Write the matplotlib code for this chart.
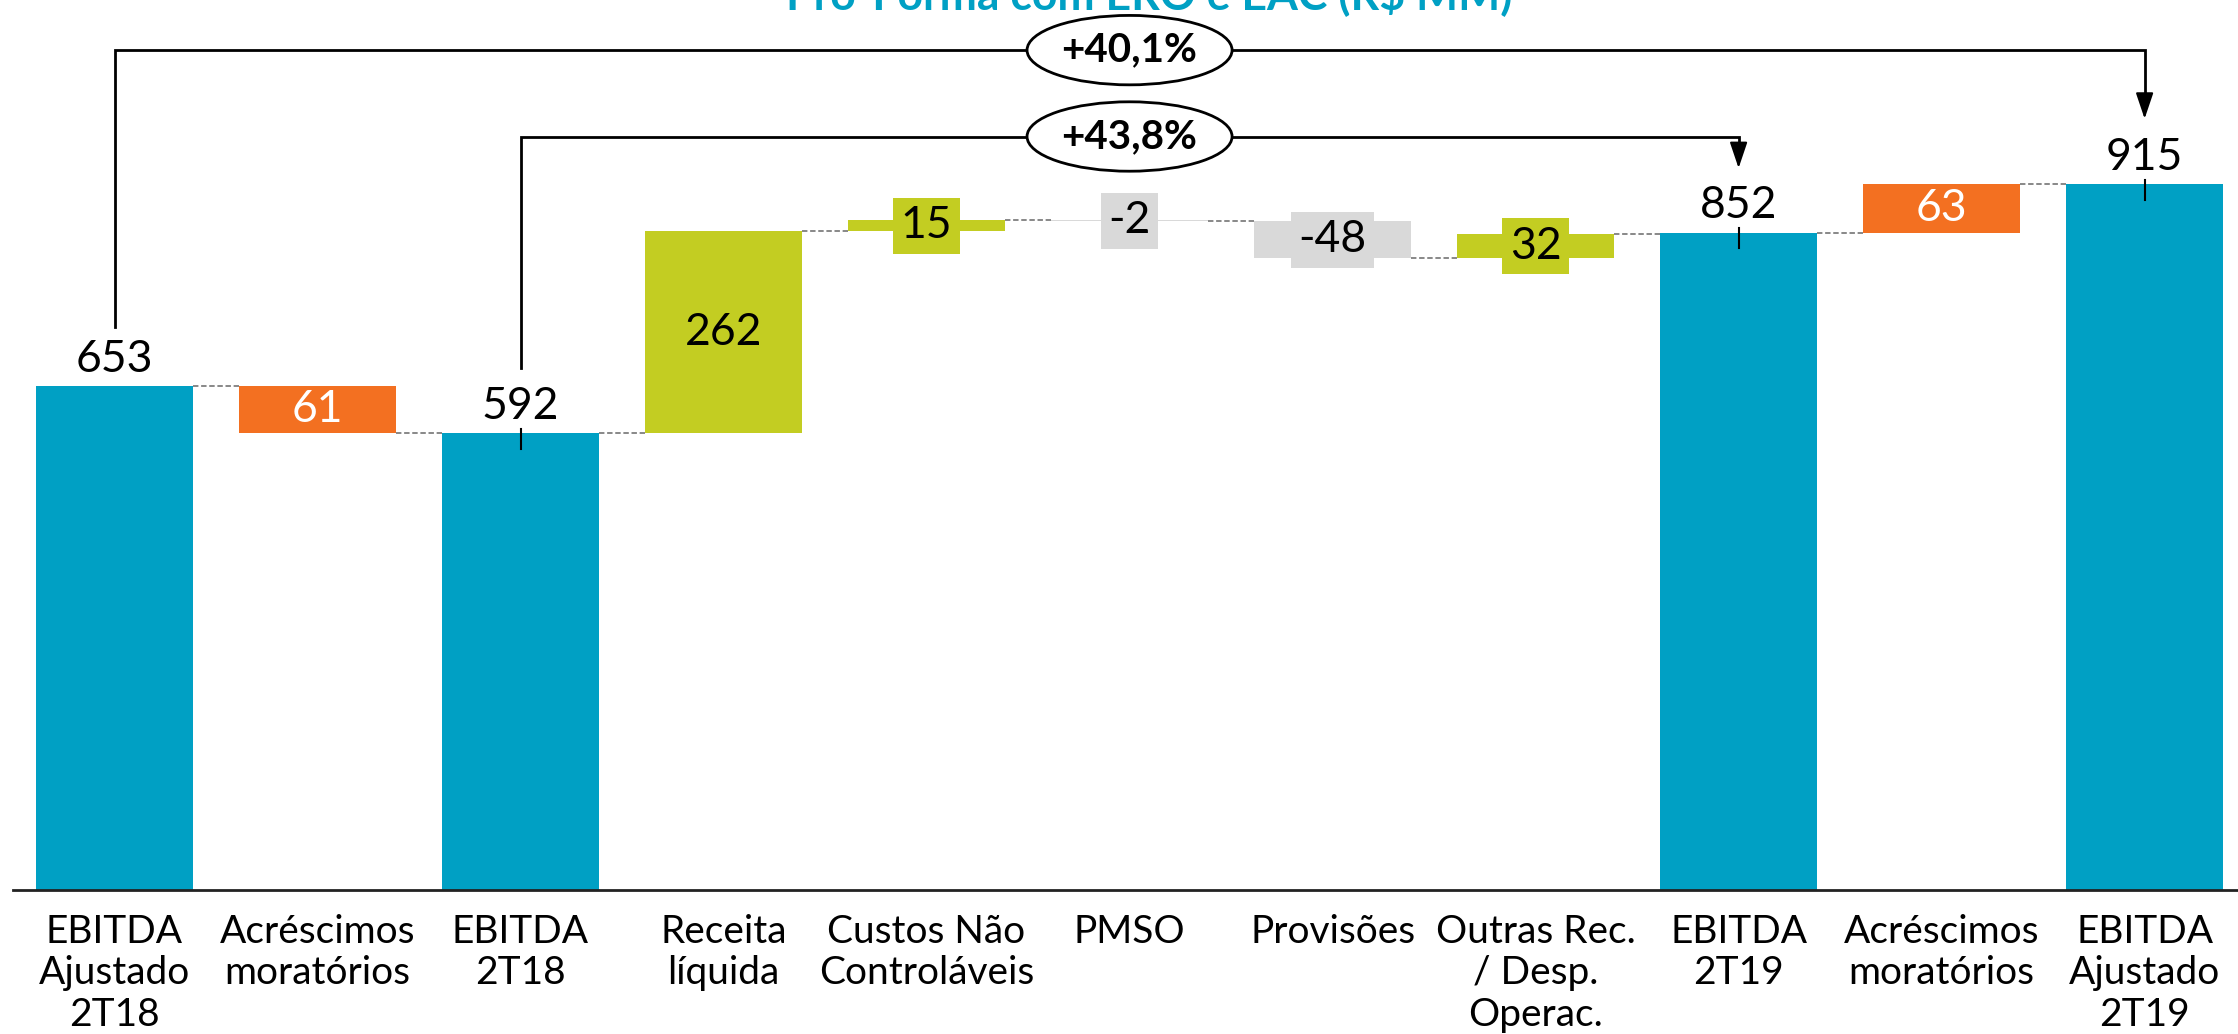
import matplotlib.pyplot as plt
from matplotlib.patches import Ellipse

plt.rcParams['font.family'] = ['Lato', 'DejaVu Sans']

# EBITDA bridge, 2T18 -> 2T19 (R$ MM)
categories = ['EBITDA\nAjustado\n2T18', 'Acréscimos\nmoratórios', 'EBITDA\n2T18',
              'Receita\nlíquida', 'Custos Não\nControláveis', 'PMSO', 'Provisões',
              'Outras Rec.\n/ Desp.\nOperac.', 'EBITDA\n2T19', 'Acréscimos\nmoratórios',
              'EBITDA\nAjustado\n2T19']
values = [653, -61, 592, 262, 15, -2, -48, 32, 852, 63, 915]
kinds = ['total', 'adj', 'total', 'delta', 'delta', 'delta', 'delta', 'delta',
         'total', 'adj', 'total']
growth = [('+40,1%', 0, 10), ('+43,8%', 2, 8)]
title = 'Pró-Forma com ERO e EAC (R$ MM)'

TEAL = '#00A0C4'
ORANGE = '#F37021'
GREEN = '#C3CD22'
GREY = '#D9D9D9'

fig = plt.figure(figsize=(22.38, 10.34), dpi=100)
ax = fig.add_axes([13 / 2238, 144 / 1034, 1 - 13 / 2238, 890 / 1034])
ax.set_xlim(-0.5, 10.46)
ax.set_ylim(0, 1154)

w = 0.775
level = 0
ends = []
for i, (v, k) in enumerate(zip(values, kinds)):
    if k == 'total':
        bottom, top = 0, v
        color = TEAL
    else:
        bottom, top = level, level + v
        if k == 'adj':
            color = ORANGE
        else:
            color = GREEN if v > 0 else GREY
    ax.bar(i, top - bottom, bottom=bottom, width=w, color=color, zorder=2)
    level = top
    ends.append(top)

    mid = (bottom + top) / 2
    if k == 'total':
        ax.text(i, v + 19, str(v), ha='center', va='baseline', fontsize=32, zorder=4)
    elif k == 'adj':
        ax.text(i, mid, str(abs(v)), ha='center', va='center', fontsize=32,
                color='white', zorder=4)
    elif abs(v) < 55:
        ax.text(i, mid, str(v), ha='center', va='center', fontsize=32, zorder=4,
                bbox=dict(boxstyle='square,pad=0.17', fc=color, ec='none'))
    else:
        ax.text(i, mid, str(v), ha='center', va='center', fontsize=32, zorder=4)

# dashed connectors between consecutive bars
for i in range(len(values) - 1):
    ax.plot([i + w / 2, i + 1 - w / 2], [ends[i], ends[i]], color='#7f7f7f',
            lw=1.3, ls=(0, (3, 1.5)), zorder=1)

# small markers at the top of the totals reached by the brackets
for i in (2, 8, 10):
    ax.plot([i, i], [values[i] + 6, values[i] - 20], color='black', lw=1.5, zorder=3)

# growth brackets
bracket_y = [1089, 977]
start_y = [730, 677]
tip_y = [1000, 936]
for (txt, a, b), yb, ys, yt in zip(growth, bracket_y, start_y, tip_y):
    ax.plot([a, a, b, b], [ys, yb, yb, yt + 25], color='black', lw=2,
            solid_joinstyle='miter', zorder=3)
    ax.annotate('', xy=(b, yt), xytext=(b, yt + 26),
                arrowprops=dict(arrowstyle='-|>,head_length=0.8,head_width=0.27',
                                mutation_scale=20, color='black', lw=1.5,
                                shrinkA=0, shrinkB=0), zorder=3)
    ax.add_patch(Ellipse(((a + b) / 2, yb), width=1.01, height=90, fc='white',
                         ec='black', lw=2, zorder=5))
    ax.text((a + b) / 2, yb, txt, ha='center', va='center', fontsize=29,
            fontweight='bold', zorder=6)

ax.set_xticks(range(len(categories)))
ax.set_xticklabels(categories, fontsize=28, linespacing=1.2)
ax.tick_params(axis='x', length=0, pad=17)
ax.set_yticks([])
for s in ('top', 'right', 'left'):
    ax.spines[s].set_visible(False)
ax.spines['bottom'].set_linewidth(2)
ax.spines['bottom'].set_color('#222222')

fig.text(1149 / 2238, 1 - 9 / 1034, title, ha='center', va='baseline',
         fontsize=32, fontweight='bold', color=TEAL)

fig.savefig('out.png', dpi=100)
